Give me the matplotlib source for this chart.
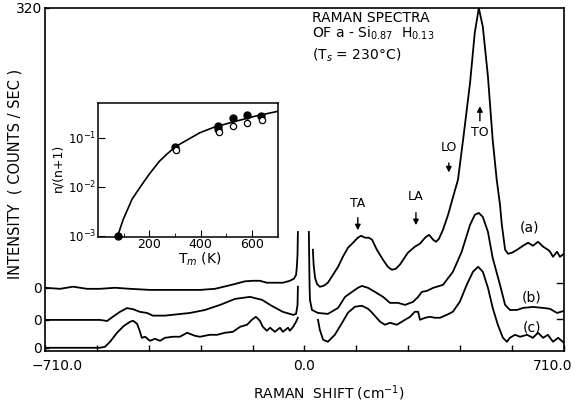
import matplotlib
matplotlib.use("Agg")
import matplotlib.pyplot as plt
import numpy as np

plt.rcParams["font.family"] = ["DejaVu Sans"]

# spectra, Raman shift (cm-1) vs counts above each trace's own zero
a_left_x = [-710, -669, -633, -595, -560, -518, -477, -423, -354, -286, -245, -196, -163,
            -141, -122, -103, -81, -59, -40, -29, -23, -21, -19, -18]
a_left_y = [0, -1, 1, -1, -1, 0, -1, -2, -2, -2, -1, 3, 6, 6.5, 6.5, 4.7, 4.7, 4.7, 6.5,
            8.4, 12, 19, 31, 52]
a_right_x = [23, 25, 29, 34, 42, 53, 64, 78, 92, 105, 119, 133, 146, 155, 166, 176, 185, 198,
             215, 228, 239, 250, 261, 283, 302, 316, 330, 341, 352, 360, 368, 379, 393, 406,
             420, 434, 453, 466, 477, 488, 502, 515, 526, 535, 540, 549, 557, 568, 582, 598,
             612, 625, 639, 653, 666, 672, 680, 691, 699, 710]
a_right_y = [35.5, 21.5, 9.3, 3.7, 0.9, 1.9, 4.7, 12.1, 19.6, 28.9, 37.3, 42, 46.7, 48.5, 46.7,
             46.7, 44.8, 35.5, 26.1, 19.6, 16.8, 17.7, 21.5, 32.7, 38.3, 41.1, 46.7, 49.4, 44.8,
             42.9, 45.7, 54.1, 68.1, 84, 100.8, 138, 191, 238, 261, 243.5, 197, 138, 100.8,
             77.4, 58.8, 35.5, 31.7, 32.7, 35.5, 39.2, 42, 39.2, 42.9, 38.3, 35.5, 33.6, 28.9,
             33.6, 28.9, 31.7]

b_left_x = [-710, -628, -560, -540, -524, -505, -486, -469, -450, -431, -415, -382, -313,
            -272, -231, -190, -149, -116, -89, -59, -31, -23, -19, -18]
b_left_y = [0, 0, 0, -1, 3, 7.5, 11, 10, 7.5, 6.5, 4, 4, 6.5, 9.3, 14, 19.6, 21.5, 18.7, 13,
            7.5, 4.7, 5.6, 14, 31]
b_right_x = [12, 13, 14, 15, 20.5, 37, 64, 92, 111, 130, 146, 157, 174, 193, 215, 234, 256,
             275, 297, 311, 321, 335, 352, 379, 406, 430, 453, 466, 477, 488, 502, 515, 535,
             549, 562, 582, 598, 625, 653, 672, 691, 710]
b_right_y = [82.1, 56, 30.8, 18.7, 9.3, 6.5, 5.6, 11.2, 21.5, 26.1, 29.9, 31.7, 29.9, 26.1,
             21.5, 15.9, 15.9, 14, 16.8, 21.5, 26.1, 27.1, 29.9, 32.7, 44.8, 63.4, 88.6, 98,
             99.8, 96.1, 82.1, 57.8, 32.7, 14, 9.3, 9.3, 11.2, 12.1, 11.2, 10.3, 6.5, 8.4]

c_left_x = [-710, -628, -560, -546, -532, -513, -494, -477, -469, -458, -450, -445, -436,
            -423, -409, -395, -382, -360, -341, -321, -300, -286, -259, -239, -218, -196,
            -176, -157, -144, -133, -122, -114, -103, -94, -81, -67, -59, -45, -40, -31, -23,
            -18]
c_left_y = [0, 0, 0, 0.9, 5.6, 14, 20.5, 24.3, 25.2, 22.4, 14.9, 9.3, 10.3, 6.5, 8.4, 6.5,
            9.3, 10.3, 10.3, 14, 11.2, 10.3, 12.1, 12.1, 14, 14.9, 19.6, 21.5, 26.1, 28.9,
            25.2, 19.6, 15.9, 18.7, 14.9, 18.7, 14.9, 18.7, 15.9, 19.6, 24.3, 28]
c_right_x = [37, 42, 51, 64, 83, 103, 119, 138, 157, 174, 185, 207, 220, 234, 253, 275, 289,
             302, 311, 316, 330, 343, 357, 371, 390, 406, 425, 444, 461, 475, 488, 502, 515,
             529, 543, 554, 562, 576, 590, 609, 625, 639, 653, 666, 680, 694, 710]
c_right_y = [26.1, 16.8, 7.5, 5.6, 12.1, 23.3, 32.7, 38.3, 39.2, 36.4, 32.7, 24.3, 21.5, 23.3,
             21.5, 26.1, 28.9, 33.6, 33.6, 26.1, 28, 28.9, 28, 28, 30.8, 33.6, 42.9, 58.8,
             70.9, 75.6, 70.9, 56, 37.3, 21.5, 9.3, 5.6, 9.3, 12.1, 10.3, 12.1, 9.3, 14, 9.3,
             12.1, 5.6, 9.3, 4.7]

offsets = {"a": 59, "b": 29, "c": 3}
right_marks = [30, 63]
x_ticks = [-710, -568, -426, -284, -142, 0, 142, 284, 426, 568, 710]

# inset: n/(n+1) vs measuring temperature
fit_T = [77, 98, 133, 169, 200, 239, 267, 302, 349, 396, 455, 525, 612, 702]
fit_r = [0.001, 0.00214, 0.00562, 0.0107, 0.0182, 0.0331, 0.0457, 0.066, 0.0912, 0.126,
         0.166, 0.209, 0.275, 0.347]
full_T = [77, 300, 467, 467, 525, 578, 635]
full_r = [0.001, 0.066, 0.174, 0.152, 0.253, 0.29, 0.277]
open_T = [305, 472, 525, 580, 639]
open_r = [0.055, 0.132, 0.174, 0.20, 0.23]

fig = plt.figure(figsize=(5.76, 4.04), dpi=100)
ax = fig.add_axes([0.0781, 0.1312, 0.901, 0.849])

for name, segs in [("a", [(a_left_x, a_left_y), (a_right_x, a_right_y)]),
                   ("b", [(b_left_x, b_left_y), (b_right_x, b_right_y)]),
                   ("c", [(c_left_x, c_left_y), (c_right_x, c_right_y)])]:
    for xs, ys in segs:
        ax.plot(xs, np.array(ys) + offsets[name], color="k", lw=1.3)

ax.set_xlim(-710, 710)
ax.set_ylim(0, 320)
ax.set_xticks(x_ticks)
ax.set_xticklabels([])
ax.set_yticks([offsets["c"], offsets["b"], offsets["a"], 320])
ax.set_yticklabels(["0", "0", "0", "320"], fontsize=10)
ax.tick_params(axis="x", direction="in", length=4, width=1)
ax.tick_params(axis="y", direction="in", length=3, width=1, pad=2)
for yv in right_marks:
    ax.plot([690, 710], [yv, yv], color="k", lw=1)
for s in ax.spines.values():
    s.set_linewidth(1.2)

tr = ax.get_xaxis_transform()
ax.text(-677, -0.045, "\u2212710.0", transform=tr, ha="center", va="center", fontsize=10)
ax.text(0, -0.045, "0.0", transform=tr, ha="center", va="center", fontsize=10)
ax.text(680, -0.045, "710.0", transform=tr, ha="center", va="center", fontsize=10)

fig.text(0.571, 0.027, "RAMAN  SHIFT (cm$^{-1}$)", ha="center", va="center", fontsize=10)
fig.text(0.026, 0.569, "INTENSITY  ( COUNTS / SEC )", rotation=90, ha="center",
         va="center", fontsize=10.5)

ax.text(20, 311, "RAMAN SPECTRA", fontsize=10, va="center", ha="left")
ax.text(20, 296, "OF a - Si$_{0.87}$  H$_{0.13}$", fontsize=10, va="center", ha="left")
ax.text(20, 276, "(T$_s$ = 230\u00b0C)", fontsize=10, va="center", ha="left")

peaks = [("TA", 146, 138, 127, 110), ("LA", 305, 144, 131.6, 114.8),
         ("LO", 395, 190, 178, 164)]
for lab, xp, yt, y0, y1 in peaks:
    ax.text(xp, yt, lab, fontsize=9, ha="center", va="center")
    ax.annotate("", xy=(xp, y1), xytext=(xp, y0),
                arrowprops=dict(arrowstyle="-|>", color="k", lw=1, mutation_scale=8))
ax.text(480, 204, "TO", fontsize=9, ha="center", va="center")
ax.annotate("", xy=(480, 231), xytext=(480, 212),
            arrowprops=dict(arrowstyle="-|>", color="k", lw=1, mutation_scale=8))

ax.text(617, 115, "(a)", fontsize=10, ha="center", va="center")
ax.text(622, 50, "(b)", fontsize=10, ha="center", va="center")
ax.text(622, 22, "(c)", fontsize=10, ha="center", va="center")

# inset
ins = fig.add_axes([0.170, 0.4134, 0.3125, 0.3317])
ins.plot(fit_T, fit_r, color="k", lw=1.2)
ins.plot(full_T, full_r, "o", color="k", ms=5, clip_on=False)
ins.plot(open_T, open_r, "o", mfc="white", mec="k", ms=4.5, mew=0.9)
ins.set_yscale("log")
ins.set_xlim(0, 700)
ins.set_ylim(0.00095, 0.51)
ins.set_xticks([200, 400, 600])
ins.set_xticks([100, 300, 500], minor=True)
ins.set_yticks([0.001, 0.01, 0.1])
ins.yaxis.set_minor_locator(matplotlib.ticker.NullLocator())
ins.tick_params(which="both", direction="in", labelsize=9, pad=1)
ins.tick_params(axis="y", labelsize=8.5)
ins.tick_params(which="major", length=5)
ins.tick_params(which="minor", length=3)
for s in ins.spines.values():
    s.set_linewidth(1.1)
fig.text(0.347, 0.357, "T$_m$ (K)", ha="center", va="center", fontsize=10)
fig.text(0.101, 0.584, "n/(n+1)", rotation=90, ha="center", va="center", fontsize=9)

fig.savefig("out.png", dpi=100)
